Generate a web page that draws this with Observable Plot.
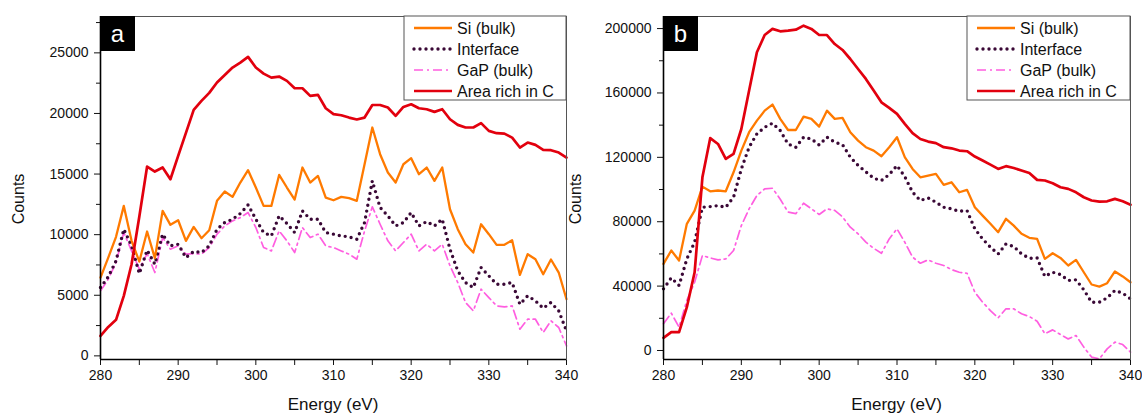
<!DOCTYPE html>
<html>
<head>
<meta charset="utf-8">
<script src="https://cdn.jsdelivr.net/npm/d3@7"></script>
<script src="https://cdn.jsdelivr.net/npm/@observablehq/plot@0.6"></script>
<style>
  html, body { margin: 0; padding: 0; background: #fff; }
  #wrap { position: relative; width: 1142px; height: 414px; overflow: hidden; font-family: "Liberation Sans", Arial, sans-serif; }
  #wrap svg { position: absolute; top: 0; }
</style>
</head>
<body>
<div id="wrap"></div>
<script>
// ---------- data ----------
const energy = [280,281,282,283,284,285,286,287,288,289,290,291,292,293,294,295,296,297,298,299,300,301,302,303,304,305,306,307,308,309,310,311,312,313,314,315,316,317,318,319,320,321,322,323,324,325,326,327,328,329,330,331,332,333,334,335,336,337,338,339,340];

const seriesNames = ["Si (bulk)", "Interface", "GaP (bulk)", "Area rich in C"];

// Panel a
const aSi = [6460,8110,9820,12375,9490,7780,10260,8060,11960,10810,11190,9490,10640,9710,10370,
  12790,13560,13120,14300,15320,13890,12375,12375,14930,13890,12900,15540,14300,14850,13060,
  12840,13120,13010,12790,15810,18840,16640,15125,14300,15810,16310,14990,15540,14440,15540,
  12100,10450,9210,8525,10860,10040,9160,9160,9540,6680,8390,7975,6740,7950,6875,4675];
const aInterface = [5640,6520,7840,10450,9075,6790,8720,7560,10040,9075,9210,8110,8610,8525,9075,
  10450,11000,11275,11740,12460,11275,10175,9900,11550,10920,10175,11960,11275,11275,10175,
  10040,9900,9820,9625,11000,14440,12240,11550,10725,10990,11825,10725,11080,10725,11275,
  8800,7010,6050,5640,7290,6600,5910,5910,6050,4260,4950,4540,3930,4400,3710,2060];
const aGaP = [5360,6320,7700,10175,8660,7150,8440,6875,9760,8800,9075,8390,8440,8390,8940,
  10040,10725,11140,11410,11825,10590,8940,8660,10310,9490,8525,10590,9760,10040,9075,
  8940,8660,8390,7975,10310,12300,10860,9490,8660,9350,10040,8660,9210,8660,9210,
  7425,6050,4400,3710,5500,4810,4125,4040,4125,2200,3025,3025,1925,2890,2340,825];
const aCarbon = [1650,2390,2970,4950,7560,11500,15620,15210,15540,14575,16500,18400,20300,21040,21700,
  22550,23180,23790,24200,24670,23790,23290,22960,23045,22690,22080,22080,21450,21530,20430,
  19940,19855,19660,19500,19660,20700,20700,20490,19800,20540,20760,20430,20350,20130,20350,
  19525,19060,18840,18840,19200,18560,18370,18340,18010,17190,17600,17410,17000,16970,16775,16360];

// Panel b
const bSi = [53800,62100,55900,78700,86900,101800,98900,99400,98900,110700,124200,135600,142800,149000,152800,
  143900,137000,137000,145300,143900,139100,149000,143900,144500,135600,130400,126300,124200,120700,126300,
  132500,120100,112800,107600,108700,109700,102900,104500,98300,99800,89000,83800,78700,73500,81800,
  77600,72500,70000,69300,56900,60400,57500,52800,56300,48600,41000,39700,41800,49100,46000,42400];
const bInterface = [38300,45100,40400,56900,67300,89000,89400,90000,89000,95200,112800,126300,134600,138700,141200,
  136600,128300,126300,132500,131400,127700,132500,129400,127900,120100,115000,111000,107000,105600,109300,
  114900,108000,98300,93200,94800,92100,89000,88000,86500,86900,75600,69300,64200,60000,66200,
  64600,60000,57300,57500,46000,48600,47200,43500,43900,37700,30000,30000,32700,37300,35600,32100];
const bGaP = [16600,23200,14500,31100,42400,59000,57500,56300,56900,62100,77600,88000,96300,100400,100800,
  94000,86000,85000,91500,88000,84500,88000,87000,83000,76600,72500,67300,63500,60400,69300,
  75600,67300,58000,54200,56300,54200,52800,50300,48600,48000,36200,30000,24800,20300,25900,
  25900,22800,21100,18200,10400,12800,9900,7200,9300,2100,-4100,-5200,1000,5200,3700,-1000];
const bCarbon = [7870,11400,11400,26900,48600,107600,131900,128300,119000,122100,137600,161500,185300,196000,199800,
  198300,198700,199300,201800,199800,196000,196000,190400,186700,181100,174900,168700,161500,154200,150700,
  147000,140800,135000,131400,129800,128800,126300,125600,124200,123800,120500,118000,115500,112800,114500,
  113400,111800,110300,106000,105600,103900,101400,100400,98300,95200,93200,92500,92700,94200,92700,90600];

const xTicks = [280, 290, 300, 310, 320, 330, 340];
const xMinorTicks = [285, 295, 305, 315, 325, 335];
const aYTicks = [0, 5000, 10000, 15000, 20000, 25000];
const aYMinorTicks = [2500, 7500, 12500, 17500, 22500, 27500];
const bYTicks = [0, 40000, 80000, 120000, 160000, 200000];
const bYMinorTicks = [20000, 60000, 100000, 140000, 180000];

// ---------- styles ----------
const lineStyle = {
  "Si (bulk)":      {stroke: "#ff7a00", strokeWidth: 2.3},
  "Interface":      {stroke: "#3a0836", strokeWidth: 3.4, strokeDasharray: "0 6", strokeLinecap: "round"},
  "GaP (bulk)":     {stroke: "#ff5ee0", strokeWidth: 1.7, strokeDasharray: "9 4 2 4"},
  "Area rich in C": {stroke: "#e2000e", strokeWidth: 2.7}
};
const drawOrder = ["GaP (bulk)", "Interface", "Si (bulk)", "Area rich in C"];
const fontFamily = '"Liberation Sans", Arial, sans-serif';

function buildTable(values) {
  const rows = [];
  seriesNames.forEach((name, k) => {
    energy.forEach((e, i) => rows.push({energy: e, counts: values[k][i], name}));
  });
  return rows;
}

function makePanel(cfg) {
  const rows = buildTable(cfg.values);
  const plot = Plot.plot({
    width: cfg.width, height: 414,
    marginLeft: cfg.marginLeft, marginRight: cfg.marginRight, marginTop: 16, marginBottom: 55,
    style: {fontFamily, fontSize: "14px", color: "#111", background: "transparent", overflow: "visible"},
    x: {domain: [280, 340], label: null},
    y: {domain: cfg.yDomain, label: null},
    marks: [
      Plot.axisX({ticks: xTicks, tickSize: 6, tickPadding: 5, tickFormat: d => String(d), label: null, fontSize: 14}),
      Plot.axisX({ticks: xMinorTicks, tickSize: 6, tickFormat: () => "", label: null}),
      Plot.axisY({ticks: cfg.yTicks, tickSize: 6, tickPadding: 6, tickFormat: d => String(d), label: null, fontSize: 14}),
      Plot.axisY({ticks: cfg.yMinorTicks, tickSize: 4, tickFormat: () => "", label: null}),
      ...drawOrder.map(name => Plot.line(rows.filter(r => r.name === name), {
        x: "energy", y: "counts", ...lineStyle[name], strokeLinejoin: "round"
      })),
      Plot.frame({stroke: "#555", strokeWidth: 1}),
      Plot.ruleX([280], {stroke: "#000", strokeWidth: 1.6}),
      Plot.ruleY([cfg.yDomain[0]], {stroke: "#000", strokeWidth: 1.6})
    ]
  });
  const svg = d3.select(plot).style("left", cfg.left + "px");
  const ml = cfg.marginLeft, w = cfg.width;
  const plotRight = w - cfg.marginRight;

  // panel letter box
  svg.append("rect").attr("x", ml).attr("y", 16).attr("width", 35).attr("height", 35).attr("fill", "#000");
  svg.append("text").attr("x", ml + 17.5).attr("y", 42).attr("text-anchor", "middle")
    .attr("fill", "#fff").attr("font-size", 24).attr("font-family", fontFamily).text(cfg.letter);

  // axis titles
  svg.append("text").attr("transform", `translate(${cfg.countsX},199) rotate(-90)`)
    .attr("text-anchor", "middle").attr("dominant-baseline", "central")
    .attr("font-size", 16).attr("font-family", fontFamily).attr("fill", "#111").text("Counts");
  svg.append("text").attr("x", (ml + plotRight) / 2).attr("y", 410)
    .attr("text-anchor", "middle").attr("font-size", 17).attr("font-family", fontFamily)
    .attr("fill", "#111").text("Energy (eV)");

  // legend
  const lx = plotRight - cfg.legendW, ly = 16;
  const lg = svg.append("g");
  lg.append("rect").attr("x", lx).attr("y", ly).attr("width", cfg.legendW).attr("height", 84)
    .attr("fill", "#fff").attr("stroke", "#555").attr("stroke-width", 1);
  seriesNames.forEach((name, i) => {
    const y = ly + 12 + i * 21;
    const st = lineStyle[name];
    lg.append("line").attr("x1", lx + 10).attr("x2", lx + 48).attr("y1", y).attr("y2", y)
      .attr("stroke", st.stroke).attr("stroke-width", st.strokeWidth)
      .attr("stroke-dasharray", st.strokeDasharray || null)
      .attr("stroke-linecap", st.strokeLinecap || "butt");
    lg.append("text").attr("x", lx + 53).attr("y", y).attr("dy", "0.35em")
      .attr("text-anchor", "start")
      .attr("font-size", 16).attr("font-family", fontFamily).attr("fill", "#111").text(name);
  });
  document.getElementById("wrap").appendChild(plot);
}

makePanel({
  left: 0, width: 571, marginLeft: 100, marginRight: 5, letter: "a", countsX: 18,
  yDomain: [-300, 28000], yTicks: aYTicks, yMinorTicks: aYMinorTicks, legendW: 162,
  values: [aSi, aInterface, aGaP, aCarbon]
});
makePanel({
  left: 560, width: 582, marginLeft: 103, marginRight: 12, letter: "b", countsX: 15,
  yDomain: [-5600, 207500], yTicks: bYTicks, yMinorTicks: bYMinorTicks, legendW: 163,
  values: [bSi, bInterface, bGaP, bCarbon]
});
</script>
</body>
</html>
